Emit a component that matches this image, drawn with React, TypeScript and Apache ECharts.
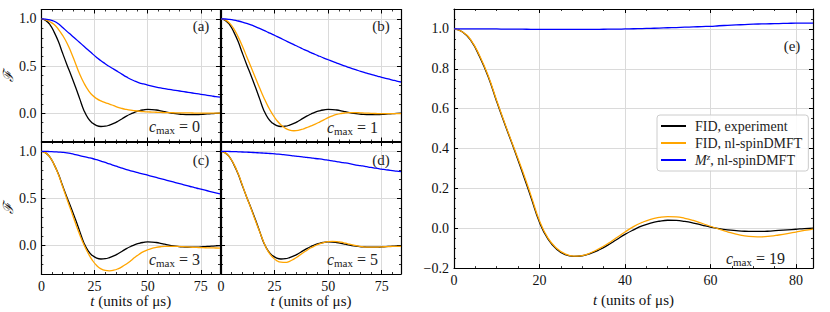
import React, { useEffect, useRef } from 'react';
import * as echarts from 'echarts';

// time grid (units of µs)
const T = [0, 2, 4, 6, 8, 10, 12, 14, 16, 18, 20, 22, 24, 26, 28, 30, 32, 34, 36, 38, 40, 42, 44, 46, 48, 50, 52, 54, 56, 58, 60, 62, 64, 66, 68, 70, 72, 74, 76, 78, 80, 82, 84];

// FID, experiment (same in all panels)
const fidExp = [1.0, 0.985, 0.94, 0.86, 0.76, 0.635, 0.515, 0.4, 0.28, 0.155, 0.03, -0.055, -0.105, -0.132, -0.141, -0.138, -0.126, -0.108, -0.085, -0.058, -0.031, -0.008, 0.012, 0.026, 0.035, 0.04, 0.039, 0.034, 0.026, 0.016, 0.006, -0.002, -0.008, -0.012, -0.015, -0.016, -0.016, -0.014, -0.011, -0.008, -0.005, -0.002, 0.0];

// c_max = 0
const fidC0 = [1.0, 0.99, 0.97, 0.94, 0.89, 0.825, 0.745, 0.645, 0.53, 0.415, 0.32, 0.245, 0.19, 0.155, 0.13, 0.112, 0.097, 0.08, 0.063, 0.05, 0.04, 0.032, 0.026, 0.021, 0.017, 0.014, 0.012, 0.01, 0.008, 0.007, 0.006, 0.005, 0.004, 0.004, 0.003, 0.003, 0.002, 0.002, 0.001, 0.001, 0.0, 0.0, 0.0];
const mzC0 = [1.0, 0.997, 0.99, 0.975, 0.948, 0.91, 0.868, 0.83, 0.79, 0.75, 0.71, 0.67, 0.63, 0.592, 0.556, 0.525, 0.495, 0.468, 0.44, 0.412, 0.385, 0.36, 0.34, 0.323, 0.31, 0.298, 0.287, 0.277, 0.268, 0.26, 0.253, 0.246, 0.239, 0.232, 0.225, 0.218, 0.211, 0.204, 0.197, 0.19, 0.183, 0.176, 0.17];

// c_max = 1
const fidC1 = [1.0, 0.99, 0.955, 0.895, 0.81, 0.71, 0.6, 0.49, 0.38, 0.27, 0.165, 0.07, -0.01, -0.075, -0.125, -0.16, -0.18, -0.186, -0.182, -0.17, -0.152, -0.135, -0.116, -0.094, -0.07, -0.047, -0.028, -0.013, -0.003, 0.003, 0.006, 0.006, 0.005, 0.003, 0.001, -0.001, -0.003, -0.004, -0.005, -0.005, -0.005, -0.005, -0.005];
const mzC1 = [1.0, 0.999, 0.995, 0.988, 0.978, 0.966, 0.952, 0.936, 0.918, 0.899, 0.879, 0.858, 0.837, 0.815, 0.793, 0.771, 0.749, 0.727, 0.705, 0.684, 0.663, 0.643, 0.623, 0.604, 0.585, 0.567, 0.549, 0.532, 0.515, 0.499, 0.483, 0.468, 0.453, 0.439, 0.425, 0.412, 0.399, 0.387, 0.375, 0.363, 0.352, 0.341, 0.331];

// c_max = 3
const fidC3 = [1.0, 0.985, 0.94, 0.86, 0.755, 0.625, 0.495, 0.37, 0.24, 0.12, 0.01, -0.08, -0.155, -0.21, -0.245, -0.262, -0.266, -0.26, -0.245, -0.222, -0.193, -0.16, -0.123, -0.09, -0.063, -0.043, -0.028, -0.018, -0.011, -0.007, -0.006, -0.006, -0.007, -0.009, -0.012, -0.015, -0.017, -0.019, -0.021, -0.022, -0.023, -0.024, -0.025];
const mzC3 = [1.0, 1.0, 0.998, 0.996, 0.993, 0.99, 0.985, 0.977, 0.967, 0.956, 0.945, 0.935, 0.925, 0.912, 0.898, 0.883, 0.868, 0.852, 0.837, 0.822, 0.808, 0.795, 0.783, 0.771, 0.76, 0.748, 0.736, 0.724, 0.712, 0.7, 0.688, 0.676, 0.664, 0.652, 0.64, 0.628, 0.616, 0.605, 0.594, 0.583, 0.572, 0.561, 0.55];

// c_max = 5
const fidC5 = [1.0, 0.985, 0.94, 0.865, 0.765, 0.64, 0.515, 0.395, 0.27, 0.15, 0.035, -0.06, -0.12, -0.158, -0.175, -0.177, -0.165, -0.142, -0.113, -0.08, -0.05, -0.022, 0.0, 0.02, 0.034, 0.043, 0.046, 0.044, 0.037, 0.027, 0.016, 0.005, -0.004, -0.01, -0.014, -0.015, -0.015, -0.013, -0.011, -0.009, -0.008, -0.007, -0.007];
const mzC5 = [1.0, 1.0, 0.999, 0.998, 0.996, 0.994, 0.992, 0.99, 0.987, 0.985, 0.982, 0.979, 0.976, 0.972, 0.968, 0.963, 0.958, 0.953, 0.947, 0.942, 0.936, 0.931, 0.925, 0.92, 0.914, 0.907, 0.9, 0.893, 0.885, 0.878, 0.87, 0.861, 0.853, 0.846, 0.838, 0.83, 0.823, 0.816, 0.809, 0.803, 0.797, 0.791, 0.786];

// c_max = 19
const fidC19 = [1.0, 0.985, 0.943, 0.865, 0.765, 0.64, 0.52, 0.405, 0.29, 0.165, 0.038, -0.05, -0.1, -0.129, -0.14, -0.137, -0.123, -0.102, -0.077, -0.048, -0.019, 0.008, 0.029, 0.045, 0.054, 0.058, 0.057, 0.05, 0.039, 0.025, 0.01, -0.005, -0.018, -0.03, -0.038, -0.042, -0.043, -0.04, -0.034, -0.027, -0.019, -0.011, -0.004];
const mzC19 = [1.0, 1.0, 1.0, 1.0, 1.0, 1.0, 0.999, 0.999, 0.999, 0.998, 0.998, 0.998, 0.998, 0.998, 0.998, 0.998, 0.998, 0.998, 0.999, 0.999, 1.0, 1.001, 1.002, 1.003, 1.004, 1.006, 1.007, 1.009, 1.01, 1.012, 1.013, 1.016, 1.018, 1.02, 1.022, 1.024, 1.025, 1.026, 1.027, 1.028, 1.029, 1.029, 1.029];

const panelLetters = ['(a)', '(b)', '(c)', '(d)', '(e)'];
const cMaxValues = ['0', '1', '3', '5', '19'];
const seriesNames = ['FID, experiment', 'FID, nl-spinDMFT', 'M^z, nl-spinDMFT'];
const panelFid = [fidC0, fidC1, fidC3, fidC5, fidC19];
const panelMz = [mzC0, mzC1, mzC3, mzC5, mzC19];

const FONT = 'Liberation Serif';
const COLORS = ['#000000', '#FFA500', '#0000FF'];

const grids = [
  { left: 41, top: 9.5, width: 179, height: 132 },
  { left: 221, top: 9.5, width: 180, height: 132 },
  { left: 41, top: 142, width: 179, height: 132 },
  { left: 221, top: 142, width: 180, height: 132 },
  { left: 454, top: 9, width: 359, height: 265 },
];

const fmt = (v: number) => (v < 0 ? '\u2212' : '') + Math.abs(v).toFixed(1);

const nameRich = {
  i: { fontFamily: FONT, fontSize: 15, fontStyle: 'italic', color: '#111' },
  r: { fontFamily: FONT, fontSize: 15, color: '#111' },
};

function xPair(gi: number, labels: boolean, interval: number, minorSplit: number, withName: boolean) {
  const common: any = {
    type: 'value', gridIndex: gi, min: 0, max: 84, interval,
    axisLine: { show: true, onZero: false, lineStyle: { color: '#000', width: 1.2 } },
    axisTick: { show: true, inside: true, length: 4, lineStyle: { color: '#000', width: 1 } },
    minorTick: { show: true, splitNumber: minorSplit, length: 2, lineStyle: { color: '#000', width: 0.8 } },
  };
  return [
    {
      ...common, position: 'bottom',
      splitLine: { show: true, lineStyle: { color: '#dadada', width: 1 } },
      axisLabel: { show: labels, showMaxLabel: false, margin: 5, fontFamily: FONT, fontSize: 14, color: '#111' },
      name: withName ? '{i|t}{r| (units of μs)}' : '',
      nameLocation: 'middle', nameGap: 18,
      nameTextStyle: { fontFamily: FONT, fontSize: 15, color: '#111', rich: nameRich },
    },
    { ...common, position: 'top', splitLine: { show: false }, axisLabel: { show: false } },
  ];
}

function yPair(gi: number, labels: boolean, min: number, max: number, interval: number | undefined, splitNumber: number, minorSplit: number, withName: boolean) {
  const common: any = {
    type: 'value', gridIndex: gi, min, max, splitNumber,
    axisLine: { show: true, onZero: false, lineStyle: { color: '#000', width: 1.2 } },
    axisTick: { show: true, inside: true, length: 4, lineStyle: { color: '#000', width: 1 } },
    minorTick: { show: true, splitNumber: minorSplit, length: 2, lineStyle: { color: '#000', width: 0.8 } },
  };
  if (interval !== undefined) common.interval = interval;
  return [
    {
      ...common, position: 'left',
      splitLine: { show: true, lineStyle: { color: '#dadada', width: 1 } },
      axisLabel: {
        show: labels, showMinLabel: interval !== undefined, showMaxLabel: false, margin: 5,
        fontFamily: FONT, fontSize: 14, color: '#111', formatter: fmt,
      },
      name: withName ? '\u2131' : '',
      nameLocation: 'middle', nameGap: 22, nameRotate: 90,
      nameTextStyle: { fontFamily: 'DejaVu Serif', fontStyle: 'italic', fontSize: 14, color: '#111' },
    },
    { ...common, position: 'right', splitLine: { show: false }, axisLabel: { show: false } },
  ];
}

const xAxes = [
  ...xPair(0, false, 25, 5, false),
  ...xPair(1, false, 25, 5, false),
  ...xPair(2, true, 25, 5, true),
  ...xPair(3, true, 25, 5, true),
  ...xPair(4, true, 20, 4, true),
];
const yAxes = [
  ...yPair(0, true, -0.3, 1.1, undefined, 3, 5, true),
  ...yPair(1, false, -0.3, 1.1, undefined, 3, 5, false),
  ...yPair(2, true, -0.3, 1.1, undefined, 3, 5, true),
  ...yPair(3, false, -0.3, 1.1, undefined, 3, 5, false),
  ...yPair(4, true, -0.2, 1.1, 0.2, 7, 4, false),
];

function line(name: string, values: number[], color: string, panel: number) {
  return {
    type: 'line', name, xAxisIndex: panel * 2, yAxisIndex: panel * 2,
    data: T.map((t, i) => [t, values[i]]),
    smooth: 0.5, symbol: 'none', showSymbol: false,
    lineStyle: { color, width: 1.3 }, itemStyle: { color },
    emphasis: { disabled: true },
  };
}

const series: any[] = [];
for (let p = 0; p < 5; p++) {
  series.push(line(seriesNames[0], fidExp, COLORS[0], p));
  series.push(line(seriesNames[1], panelFid[p], COLORS[1], p));
  series.push(line(seriesNames[2], panelMz[p], COLORS[2], p));
}

const letterPos = [[201, 26], [381, 26], [201, 160], [381, 160], [792, 46]];
const cmaxPos = [[200, 126], [378, 127], [200, 259], [378, 259], [785, 258]];

const cmaxRich = {
  c: { fontFamily: FONT, fontSize: 16, fontStyle: 'italic', fill: '#222', color: '#222', lineHeight: 18 },
  s: { fontFamily: FONT, fontSize: 11, fill: '#222', color: '#222', lineHeight: 10, verticalAlign: 'bottom' },
  n: { fontFamily: FONT, fontSize: 16, fill: '#222', color: '#222', lineHeight: 18 },
};

const graphics: any[] = [];
for (let p = 0; p < 5; p++) {
  graphics.push({
    type: 'text', x: letterPos[p][0], y: letterPos[p][1], z: 100,
    style: { text: panelLetters[p], fontFamily: FONT, fontSize: 15, fill: '#222', align: 'center', verticalAlign: 'middle' },
  });
  graphics.push({
    type: 'text', x: cmaxPos[p][0], y: cmaxPos[p][1], z: 100,
    style: {
      text: '{c|c}{s|max}{n| = ' + cMaxValues[p] + '}', rich: cmaxRich,
      fontFamily: FONT, fontSize: 16, fill: '#222',
      align: 'right', verticalAlign: 'middle',
    },
  });
}

function forceSerif(root: HTMLElement) {
  root.querySelectorAll('text, tspan').forEach((node) => {
    const el = node as SVGElement;
    const txt = el.textContent || '';
    el.style.fontFamily = txt.indexOf('\u2131') >= 0 ? 'DejaVu Serif' : 'Liberation Serif';
  });
}

export default function App() {
  const ref = useRef<HTMLDivElement>(null);
  useEffect(() => {
    if (!ref.current) return;
    const chart = echarts.init(ref.current, undefined, { renderer: 'svg' });
    chart.setOption({
      animation: false,
      backgroundColor: '#ffffff',
      textStyle: { fontFamily: FONT },
      grid: grids,
      xAxis: xAxes,
      yAxis: yAxes,
      series,
      graphic: graphics,
      legend: {
        data: seriesNames,
        orient: 'vertical', left: 657, top: 115,
        icon: 'rect', itemWidth: 25, itemHeight: 2, itemGap: 1,
        padding: [3, 6, 3, 4],
        borderColor: '#cccccc', borderWidth: 1, borderRadius: 3,
        backgroundColor: 'rgba(255,255,255,0.85)',
        selectedMode: false,
        formatter: (name: string) => name === 'M^z, nl-spinDMFT' ? '{g| }{i|M}{sup|z}{r|, nl-spinDMFT}' : '{g| }{r|' + name + '}',
        textStyle: {
          fontFamily: FONT, fontSize: 14, color: '#222', lineHeight: 16,
          rich: {
            g: { width: 4, fontSize: 14, lineHeight: 16 },
            i: { fontFamily: FONT, fontSize: 14, fontStyle: 'italic', color: '#222', lineHeight: 16 },
            sup: { fontFamily: FONT, fontSize: 9, fontStyle: 'italic', color: '#222', lineHeight: 9, verticalAlign: 'top' },
            r: { fontFamily: FONT, fontSize: 14, color: '#222', lineHeight: 16 },
          },
        },
      },
    });
    forceSerif(ref.current);
    chart.on('finished', () => { if (ref.current) forceSerif(ref.current); });
    return () => chart.dispose();
  }, []);
  return <div ref={ref} style={{ position: 'fixed', left: 0, top: 0, width: 830, height: 312 }} />;
}
